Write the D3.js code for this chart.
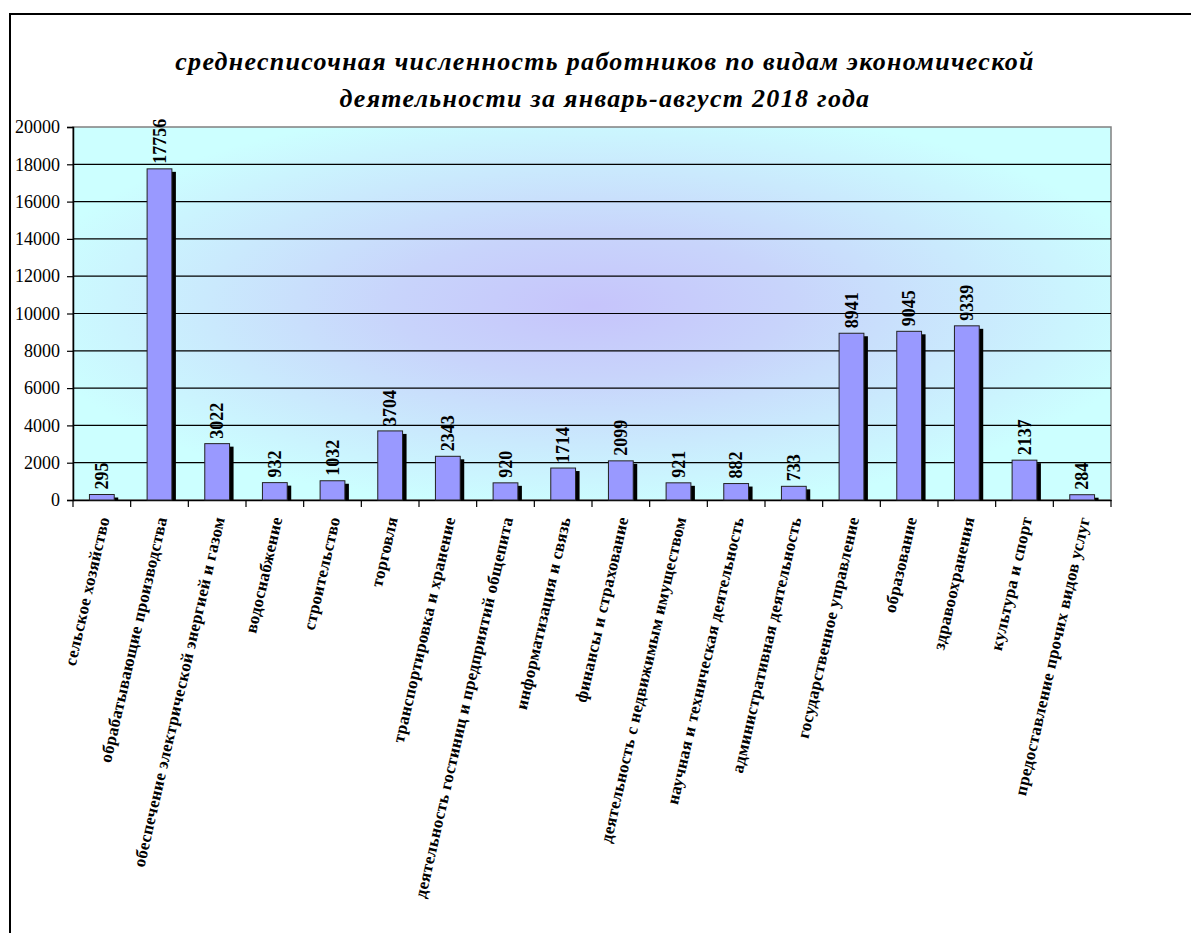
<!DOCTYPE html>
<html><head><meta charset="utf-8">
<script src="https://cdn.jsdelivr.net/npm/d3@7"></script>
<style>body{margin:0;background:#fff}svg{display:block}</style>
</head><body>
<script>
const titleLines = ["среднесписочная численность работников по видам экономической", "деятельности за январь-август 2018 года"];
const categories = ["сельское хозяйство","обрабатывающие производства","обеспечение электрической энергией и газом","водоснабжение","строительство","торговля","транспортировка и хранение","деятельность гостиниц и предприятий общепита","информатизация и связь","финансы и страхование","деятельность с недвижимым имуществом","научная и техническая деятельность","административная деятельность","государственное управление","образование","здравоохранения","культура и спорт","предоставление прочих видов услуг"];
const values = [295,17756,3022,932,1032,3704,2343,920,1714,2099,921,882,733,8941,9045,9339,2137,284];
const yTicks = [0,2000,4000,6000,8000,10000,12000,14000,16000,18000,20000];

const W=1191,H=933;
const L=73,R=1111,T=127,B=500;
const FONT="'Liberation Serif','Times New Roman',Times,serif";
const svg=d3.select("body").append("svg").attr("width",W).attr("height",H);
const defs=svg.append("defs");
const rg=defs.append("radialGradient").attr("id","bg").attr("cx","0.5").attr("cy","0.48").attr("r","0.55");
rg.append("stop").attr("offset","0").attr("stop-color","#c6c4fb");
rg.append("stop").attr("offset","0.35").attr("stop-color","#c8d4fb");
rg.append("stop").attr("offset","1").attr("stop-color","#ccffff");

svg.append("rect").attr("width",W).attr("height",H).attr("fill","#fff");
// outer frame
svg.append("path").attr("d",`M10,${H} L10,14 L${W},14`).attr("fill","none").attr("stroke","#000").attr("stroke-width",2);

const x=d3.scaleBand().domain(categories).range([L,R]).paddingInner(0.57).paddingOuter(0.285);
const y=d3.scaleLinear().domain([0,20000]).range([B,T]);

svg.append("rect").attr("x",L).attr("y",T).attr("width",R-L).attr("height",B-T).attr("fill","url(#bg)").attr("stroke","#808080").attr("stroke-width",1.5);

// gridlines
svg.append("g").selectAll("line").data(yTicks.filter(d=>d>0&&d<20000)).join("line")
 .attr("x1",L).attr("x2",R).attr("y1",d=>y(d)).attr("y2",d=>y(d)).attr("stroke","#000").attr("stroke-width",1.2);

// y axis
const ya=svg.append("g").attr("transform",`translate(${L},0)`).call(d3.axisLeft(y).tickValues(yTicks).tickSize(6).tickPadding(7).tickFormat(d3.format("d")));
ya.select(".domain").attr("stroke","#000").attr("stroke-width",1.5);
ya.selectAll("line").attr("stroke","#000").attr("stroke-width",1.2);
ya.selectAll("text").attr("font-family",FONT).attr("font-size",18).attr("fill","#000");

// x axis ticks
const step=x.step();
const xa=svg.append("g").attr("transform",`translate(0,${B})`).call(d3.axisBottom(x).tickSize(0).tickFormat(""));
xa.select(".domain").attr("stroke","#000").attr("stroke-width",1.5);
svg.append("g").selectAll("line").data(d3.range(categories.length+1)).join("line")
 .attr("x1",i=>L+i*step).attr("x2",i=>L+i*step).attr("y1",B).attr("y2",B+7).attr("stroke","#000").attr("stroke-width",1.2);

// shadows
svg.append("g").selectAll("rect").data(values).join("rect")
 .attr("x",(d,i)=>x(categories[i])+4).attr("y",d=>y(d)+3).attr("width",x.bandwidth()).attr("height",d=>B-y(d)-3).attr("fill","#000");
// bars
svg.append("g").selectAll("rect").data(values).join("rect")
 .attr("x",(d,i)=>x(categories[i])).attr("y",d=>y(d)).attr("width",x.bandwidth()).attr("height",d=>B-y(d))
 .attr("fill","#9999ff").attr("stroke","#222").attr("stroke-width",1);

// value labels
svg.append("g").selectAll("text").data(values).join("text")
 .attr("transform",(d,i)=>`translate(${x(categories[i])+x.bandwidth()/2},${y(d)-5}) rotate(-90)`)
 .attr("dy","0.35em").attr("text-anchor","start")
 .attr("font-family",FONT).attr("font-weight","bold").attr("font-size",18)
 .text(d=>d);

// category labels
svg.append("g").selectAll("text").data(categories).join("text")
 .attr("transform",d=>`translate(${x(d)+x.bandwidth()/2+2},${B+17}) rotate(-77)`)
 .attr("dy","0.35em").attr("text-anchor","end")
 .attr("font-family",FONT).attr("font-weight","bold").attr("font-size",17)
 .attr("letter-spacing","0.3px")
 .text(d=>d);

// title
svg.append("g").selectAll("text").data(titleLines).join("text")
 .attr("x",605).attr("y",(d,i)=>70+i*37).attr("text-anchor","middle")
 .attr("font-family",FONT).attr("font-weight","bold").attr("font-style","italic").attr("font-size",26)
 .attr("letter-spacing","1.3px")
 .text(d=>d);
</script>
</body></html>
